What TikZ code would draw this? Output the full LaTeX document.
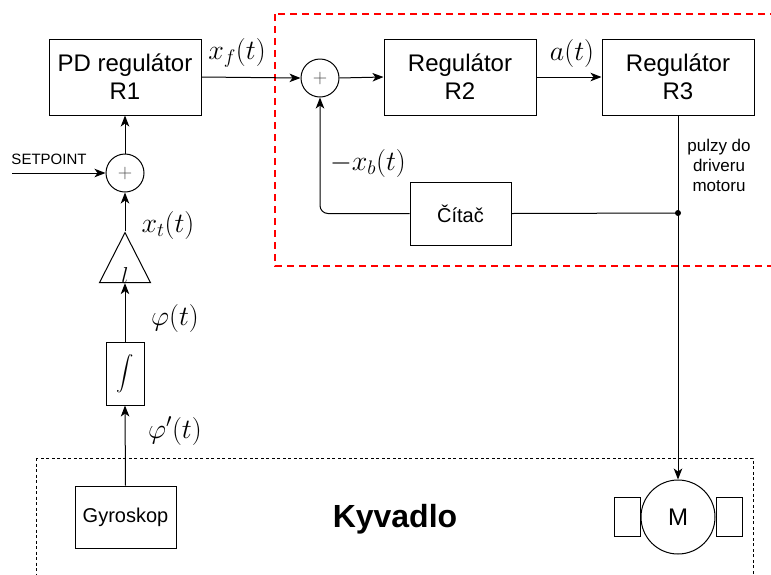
\RequirePackage{fix-cm}
\documentclass[tikz,border=0pt]{standalone}
\usepackage{exscale}
\usepackage{fontspec}
\setmainfont{Liberation Sans}
\usetikzlibrary{arrows.meta,positioning,shapes.geometric}

\begin{document}
\begin{tikzpicture}[x=1pt, y=-1pt, >={Stealth[length=11pt,width=8.5pt,inset=3pt]},
  line width=1pt,
  blok/.style={draw, align=center, inner sep=0pt, font=\fontsize{24}{28}\selectfont, minimum width=152pt, minimum height=76pt},
  malyblok/.style={draw, align=center, inner sep=0pt, font=\fontsize{20}{24}\selectfont, minimum width=101pt, minimum height=62pt},
  suma/.style={draw, circle, inner sep=0pt, minimum size=38pt, text=black!70, font=\fontsize{20}{24}\selectfont},
  signal/.style={font=\fontsize{28}{30}\selectfont}]
\useasboundingbox (0,0) rectangle (771,574);

\draw[red, line width=2pt, dash pattern=on 7pt off 5pt] (275,14) rectangle (790,266);
\draw[line width=0.8pt, dash pattern=on 3pt off 2.5pt] (36,458) rectangle (753,600);

\node[blok] (R1) at (125,77) {PD regulátor\\R1};
\node[suma] (sumB) at (320,78) {$+$};
\node[blok] (R2) at (460,77) {Regulátor\\R2};
\node[blok] (R3) at (678,77) {Regulátor\\R3};
\node[suma] (sumA) at (125,173) {$+$};
\node[draw, isosceles triangle, isosceles triangle stretches, shape border rotate=90,
  minimum width=51pt, minimum height=50pt, inner sep=0pt] (gain) at (125,267) {};
\node[font=\fontsize{23}{26}\selectfont] (gainlab) at (125,276) {$l$};
\node[draw, inner sep=0pt, minimum width=38pt, minimum height=63pt, font=\fontsize{18}{20}\selectfont] (integ) at (125,373.5) {$\displaystyle\int$};
\node[malyblok] (gyro) at (125.5,517) {Gyroskop};
\node[malyblok, minimum height=63pt] (citac) at (460.5,213.5) {Čítač};
\node[draw, circle, inner sep=0pt, minimum size=74pt, font=\fontsize{24}{28}\selectfont] (motor) at (678,517) {M};
\node[draw, inner sep=0pt, minimum width=26pt, minimum height=39pt, anchor=east] (cievkaL) at (motor.west) {};
\node[draw, inner sep=0pt, minimum width=26pt, minimum height=39pt, anchor=west] (cievkaP) at (motor.east) {};
\node[font=\bfseries\fontsize{32}{36}\selectfont] (kyvadlo) at (395,519) {Kyvadlo};

\coordinate (sp) at (12,173);
\coordinate (tap) at (678,213);
\node[font=\fontsize{15}{18}\selectfont] (splab) at (49,159) {SETPOINT};
\node[align=center, font=\fontsize{17}{20}\selectfont] (pulzy) at (719,165) {pulzy do\\driveru\\motoru};

\node[signal] (xf) at (237,53) {$x_f(t)$};
\node[signal] (at) at (572,53) {$a(t)$};
\node[signal] (xb) at (368,163) {$-x_b(t)$};
\node[signal] (xt) at (168,225) {$x_t(t)$};
\node[signal] (phi) at (175,318) {$\varphi(t)$};
\node[signal] (dphi) at (175,431) {$\varphi'(t)$};

\draw[->] (R1.east) -- (sumB.west);
\draw[->] (sumB.east) -- (R2.west);
\draw[->] (R2.east) -- (R3.west);
\draw[->] (R3.south) -- (motor.north);
\fill (tap) circle (3pt);
\draw (tap) -- (citac.east);
\draw[->, rounded corners=8pt] (citac.west) -| (sumB.south);
\draw[->] (sp) -- (sumA.west);
\draw[->] (sumA.north) -- (R1.south);
\draw[->] (gain.apex) -- (sumA.south);
\draw[->] (integ.north) -- (gain.lower side);
\draw[->] (gyro.north) -- (integ.south);
\end{tikzpicture}
\end{document}
